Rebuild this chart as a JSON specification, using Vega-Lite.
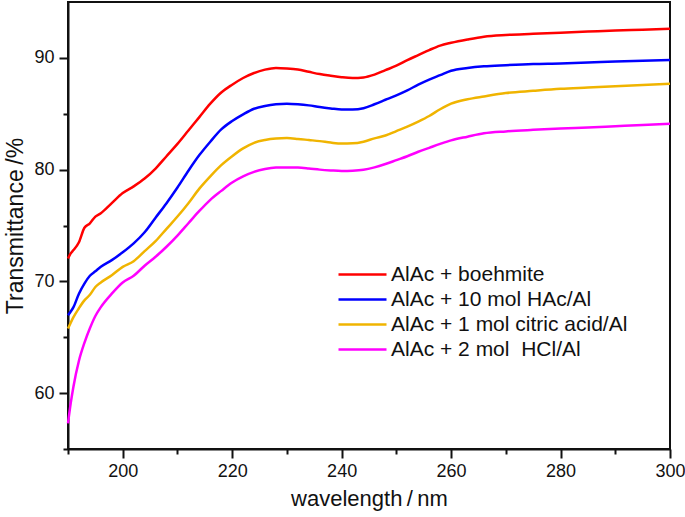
{
  "$schema": "https://vega.github.io/schema/vega-lite/v6.json",
  "width": 602,
  "height": 447,
  "autosize": "none",
  "padding": {"left": 68, "top": 2, "right": 15, "bottom": 68},
  "background": "white",
  "config": {
    "view": {"stroke": "#111111", "strokeWidth": 2},
    "font": "Liberation Sans"
  },
  "data": {
    "values": [
      {"wl": 190, "AlAc + boehmite": 72.05, "AlAc + 10 mol HAc/Al": 66.96, "AlAc + 1 mol citric acid/Al": 65.78, "AlAc + 2 mol  HCl/Al": 57.3},
      {"wl": 190.5, "AlAc + boehmite": 72.5, "AlAc + 10 mol HAc/Al": 67.3, "AlAc + 1 mol citric acid/Al": 66.3, "AlAc + 2 mol  HCl/Al": 59.1},
      {"wl": 191, "AlAc + boehmite": 72.8, "AlAc + 10 mol HAc/Al": 67.7, "AlAc + 1 mol citric acid/Al": 66.8, "AlAc + 2 mol  HCl/Al": 60.6},
      {"wl": 192, "AlAc + boehmite": 73.5, "AlAc + 10 mol HAc/Al": 68.9, "AlAc + 1 mol citric acid/Al": 67.6, "AlAc + 2 mol  HCl/Al": 62.9},
      {"wl": 193, "AlAc + boehmite": 74.8, "AlAc + 10 mol HAc/Al": 69.8, "AlAc + 1 mol citric acid/Al": 68.3, "AlAc + 2 mol  HCl/Al": 64.5},
      {"wl": 194, "AlAc + boehmite": 75.2, "AlAc + 10 mol HAc/Al": 70.5, "AlAc + 1 mol citric acid/Al": 68.8, "AlAc + 2 mol  HCl/Al": 65.8},
      {"wl": 195, "AlAc + boehmite": 75.8, "AlAc + 10 mol HAc/Al": 70.9, "AlAc + 1 mol citric acid/Al": 69.5, "AlAc + 2 mol  HCl/Al": 66.9},
      {"wl": 196, "AlAc + boehmite": 76.1, "AlAc + 10 mol HAc/Al": 71.3, "AlAc + 1 mol citric acid/Al": 69.9, "AlAc + 2 mol  HCl/Al": 67.7},
      {"wl": 198, "AlAc + boehmite": 77.0, "AlAc + 10 mol HAc/Al": 71.9, "AlAc + 1 mol citric acid/Al": 70.55, "AlAc + 2 mol  HCl/Al": 68.9},
      {"wl": 200, "AlAc + boehmite": 77.9, "AlAc + 10 mol HAc/Al": 72.6, "AlAc + 1 mol citric acid/Al": 71.3, "AlAc + 2 mol  HCl/Al": 69.9},
      {"wl": 202, "AlAc + boehmite": 78.5, "AlAc + 10 mol HAc/Al": 73.4, "AlAc + 1 mol citric acid/Al": 71.8, "AlAc + 2 mol  HCl/Al": 70.5},
      {"wl": 204, "AlAc + boehmite": 79.2, "AlAc + 10 mol HAc/Al": 74.4, "AlAc + 1 mol citric acid/Al": 72.7, "AlAc + 2 mol  HCl/Al": 71.4},
      {"wl": 206, "AlAc + boehmite": 80.1, "AlAc + 10 mol HAc/Al": 75.7, "AlAc + 1 mol citric acid/Al": 73.6, "AlAc + 2 mol  HCl/Al": 72.2},
      {"wl": 208, "AlAc + boehmite": 81.2, "AlAc + 10 mol HAc/Al": 77.0, "AlAc + 1 mol citric acid/Al": 74.7, "AlAc + 2 mol  HCl/Al": 73.1},
      {"wl": 210, "AlAc + boehmite": 82.3, "AlAc + 10 mol HAc/Al": 78.4, "AlAc + 1 mol citric acid/Al": 75.8, "AlAc + 2 mol  HCl/Al": 74.1},
      {"wl": 212, "AlAc + boehmite": 83.5, "AlAc + 10 mol HAc/Al": 79.9, "AlAc + 1 mol citric acid/Al": 77.0, "AlAc + 2 mol  HCl/Al": 75.2},
      {"wl": 214, "AlAc + boehmite": 84.7, "AlAc + 10 mol HAc/Al": 81.3, "AlAc + 1 mol citric acid/Al": 78.3, "AlAc + 2 mol  HCl/Al": 76.3},
      {"wl": 216, "AlAc + boehmite": 85.9, "AlAc + 10 mol HAc/Al": 82.5, "AlAc + 1 mol citric acid/Al": 79.4, "AlAc + 2 mol  HCl/Al": 77.3},
      {"wl": 218, "AlAc + boehmite": 86.9, "AlAc + 10 mol HAc/Al": 83.6, "AlAc + 1 mol citric acid/Al": 80.4, "AlAc + 2 mol  HCl/Al": 78.1},
      {"wl": 220, "AlAc + boehmite": 87.6, "AlAc + 10 mol HAc/Al": 84.35, "AlAc + 1 mol citric acid/Al": 81.2, "AlAc + 2 mol  HCl/Al": 78.85},
      {"wl": 222, "AlAc + boehmite": 88.2, "AlAc + 10 mol HAc/Al": 84.95, "AlAc + 1 mol citric acid/Al": 81.9, "AlAc + 2 mol  HCl/Al": 79.4},
      {"wl": 224, "AlAc + boehmite": 88.65, "AlAc + 10 mol HAc/Al": 85.45, "AlAc + 1 mol citric acid/Al": 82.4, "AlAc + 2 mol  HCl/Al": 79.8},
      {"wl": 226, "AlAc + boehmite": 88.95, "AlAc + 10 mol HAc/Al": 85.7, "AlAc + 1 mol citric acid/Al": 82.65, "AlAc + 2 mol  HCl/Al": 80.05},
      {"wl": 228, "AlAc + boehmite": 89.1, "AlAc + 10 mol HAc/Al": 85.85, "AlAc + 1 mol citric acid/Al": 82.78, "AlAc + 2 mol  HCl/Al": 80.18},
      {"wl": 230, "AlAc + boehmite": 89.05, "AlAc + 10 mol HAc/Al": 85.9, "AlAc + 1 mol citric acid/Al": 82.82, "AlAc + 2 mol  HCl/Al": 80.2},
      {"wl": 232, "AlAc + boehmite": 88.95, "AlAc + 10 mol HAc/Al": 85.85, "AlAc + 1 mol citric acid/Al": 82.75, "AlAc + 2 mol  HCl/Al": 80.18},
      {"wl": 234, "AlAc + boehmite": 88.75, "AlAc + 10 mol HAc/Al": 85.75, "AlAc + 1 mol citric acid/Al": 82.65, "AlAc + 2 mol  HCl/Al": 80.1},
      {"wl": 236, "AlAc + boehmite": 88.55, "AlAc + 10 mol HAc/Al": 85.6, "AlAc + 1 mol citric acid/Al": 82.55, "AlAc + 2 mol  HCl/Al": 80.0},
      {"wl": 238, "AlAc + boehmite": 88.4, "AlAc + 10 mol HAc/Al": 85.48, "AlAc + 1 mol citric acid/Al": 82.42, "AlAc + 2 mol  HCl/Al": 79.93},
      {"wl": 240, "AlAc + boehmite": 88.27, "AlAc + 10 mol HAc/Al": 85.38, "AlAc + 1 mol citric acid/Al": 82.33, "AlAc + 2 mol  HCl/Al": 79.88},
      {"wl": 242, "AlAc + boehmite": 88.2, "AlAc + 10 mol HAc/Al": 85.38, "AlAc + 1 mol citric acid/Al": 82.35, "AlAc + 2 mol  HCl/Al": 79.9},
      {"wl": 244, "AlAc + boehmite": 88.25, "AlAc + 10 mol HAc/Al": 85.5, "AlAc + 1 mol citric acid/Al": 82.5, "AlAc + 2 mol  HCl/Al": 79.98},
      {"wl": 246, "AlAc + boehmite": 88.5, "AlAc + 10 mol HAc/Al": 85.85, "AlAc + 1 mol citric acid/Al": 82.8, "AlAc + 2 mol  HCl/Al": 80.2},
      {"wl": 248, "AlAc + boehmite": 88.9, "AlAc + 10 mol HAc/Al": 86.25, "AlAc + 1 mol citric acid/Al": 83.05, "AlAc + 2 mol  HCl/Al": 80.5},
      {"wl": 250, "AlAc + boehmite": 89.3, "AlAc + 10 mol HAc/Al": 86.65, "AlAc + 1 mol citric acid/Al": 83.45, "AlAc + 2 mol  HCl/Al": 80.85},
      {"wl": 252, "AlAc + boehmite": 89.8, "AlAc + 10 mol HAc/Al": 87.1, "AlAc + 1 mol citric acid/Al": 83.85, "AlAc + 2 mol  HCl/Al": 81.2},
      {"wl": 254, "AlAc + boehmite": 90.25, "AlAc + 10 mol HAc/Al": 87.6, "AlAc + 1 mol citric acid/Al": 84.3, "AlAc + 2 mol  HCl/Al": 81.6},
      {"wl": 256, "AlAc + boehmite": 90.7, "AlAc + 10 mol HAc/Al": 88.05, "AlAc + 1 mol citric acid/Al": 84.8, "AlAc + 2 mol  HCl/Al": 81.95},
      {"wl": 258, "AlAc + boehmite": 91.1, "AlAc + 10 mol HAc/Al": 88.45, "AlAc + 1 mol citric acid/Al": 85.4, "AlAc + 2 mol  HCl/Al": 82.3},
      {"wl": 260, "AlAc + boehmite": 91.35, "AlAc + 10 mol HAc/Al": 88.85, "AlAc + 1 mol citric acid/Al": 85.9, "AlAc + 2 mol  HCl/Al": 82.62},
      {"wl": 263, "AlAc + boehmite": 91.65, "AlAc + 10 mol HAc/Al": 89.1, "AlAc + 1 mol citric acid/Al": 86.3, "AlAc + 2 mol  HCl/Al": 82.95},
      {"wl": 266, "AlAc + boehmite": 91.9, "AlAc + 10 mol HAc/Al": 89.25, "AlAc + 1 mol citric acid/Al": 86.55, "AlAc + 2 mol  HCl/Al": 83.25},
      {"wl": 270, "AlAc + boehmite": 92.05, "AlAc + 10 mol HAc/Al": 89.35, "AlAc + 1 mol citric acid/Al": 86.85, "AlAc + 2 mol  HCl/Al": 83.42},
      {"wl": 275, "AlAc + boehmite": 92.15, "AlAc + 10 mol HAc/Al": 89.45, "AlAc + 1 mol citric acid/Al": 87.05, "AlAc + 2 mol  HCl/Al": 83.56},
      {"wl": 280, "AlAc + boehmite": 92.25, "AlAc + 10 mol HAc/Al": 89.5, "AlAc + 1 mol citric acid/Al": 87.23, "AlAc + 2 mol  HCl/Al": 83.68},
      {"wl": 285, "AlAc + boehmite": 92.35, "AlAc + 10 mol HAc/Al": 89.58, "AlAc + 1 mol citric acid/Al": 87.35, "AlAc + 2 mol  HCl/Al": 83.76},
      {"wl": 290, "AlAc + boehmite": 92.45, "AlAc + 10 mol HAc/Al": 89.68, "AlAc + 1 mol citric acid/Al": 87.47, "AlAc + 2 mol  HCl/Al": 83.88},
      {"wl": 295, "AlAc + boehmite": 92.52, "AlAc + 10 mol HAc/Al": 89.75, "AlAc + 1 mol citric acid/Al": 87.58, "AlAc + 2 mol  HCl/Al": 84.0},
      {"wl": 300, "AlAc + boehmite": 92.6, "AlAc + 10 mol HAc/Al": 89.82, "AlAc + 1 mol citric acid/Al": 87.68, "AlAc + 2 mol  HCl/Al": 84.11}
    ]
  },
  "transform": [
    {"fold": ["AlAc + boehmite", "AlAc + 10 mol HAc/Al", "AlAc + 1 mol citric acid/Al", "AlAc + 2 mol  HCl/Al"], "as": ["series", "T"]}
  ],
  "mark": {"type": "line", "strokeWidth": 2.5, "interpolate": "monotone"},
  "encoding": {
    "x": {
      "field": "wl",
      "type": "quantitative",
      "scale": {"domain": [190, 300], "nice": false, "zero": false},
      "axis": {
        "values": [190, 200, 210, 220, 230, 240, 250, 260, 270, 280, 290, 300],
        "labelExpr": "datum.value % 20 === 0 ? datum.label : ''",
        "tickSize": {"condition": {"test": "datum.value % 20 === 0", "value": 9}, "value": 5},
        "grid": false,
        "domainColor": "#111111",
        "domainWidth": 2,
        "tickColor": "#111111",
        "tickWidth": 2,
        "labelFontSize": 18,
        "labelColor": "#111111",
        "labelPadding": 4,
        "labelFlush": false,
        "labelOverlap": false,
        "title": "wavelength\u2009/\u2009nm",
        "titleFontSize": 22,
        "titleFontWeight": "normal",
        "titleColor": "#111111",
        "titlePadding": 8
      }
    },
    "y": {
      "field": "T",
      "type": "quantitative",
      "scale": {"domain": [55, 95], "nice": false, "zero": false},
      "axis": {
        "values": [55, 60, 65, 70, 75, 80, 85, 90],
        "labelExpr": "datum.value % 10 === 0 ? datum.label : ''",
        "tickSize": {"condition": {"test": "datum.value % 10 === 0", "value": 9}, "value": 5},
        "grid": false,
        "domainColor": "#111111",
        "domainWidth": 2,
        "tickColor": "#111111",
        "tickWidth": 2,
        "labelFontSize": 18,
        "labelColor": "#111111",
        "labelPadding": 5,
        "labelOverlap": false,
        "title": "Transmittance\u2009/%",
        "titleFontSize": 23,
        "titleFontWeight": "normal",
        "titleColor": "#111111",
        "titlePadding": 6
      }
    },
    "color": {
      "field": "series",
      "type": "nominal",
      "sort": ["AlAc + boehmite", "AlAc + 10 mol HAc/Al", "AlAc + 1 mol citric acid/Al", "AlAc + 2 mol  HCl/Al"],
      "scale": {
        "domain": ["AlAc + boehmite", "AlAc + 10 mol HAc/Al", "AlAc + 1 mol citric acid/Al", "AlAc + 2 mol  HCl/Al"],
        "range": ["#ff0000", "#0000ff", "#f0b400", "#ff00ff"]
      },
      "legend": {
        "orient": "none",
        "legendX": 281,
        "legendY": 259,
        "title": null,
        "padding": 0,
        "symbolType": "M-2,0H2",
        "symbolSize": 576,
        "symbolStrokeWidth": 2.5,
        "labelFontSize": 21,
        "labelColor": "#111111",
        "labelOffset": 15,
        "rowPadding": 1,
        "labelLimit": 400,
        "labelExpr": "replace(datum.label, '  ', '\u00a0 ')"
      }
    }
  }
}
